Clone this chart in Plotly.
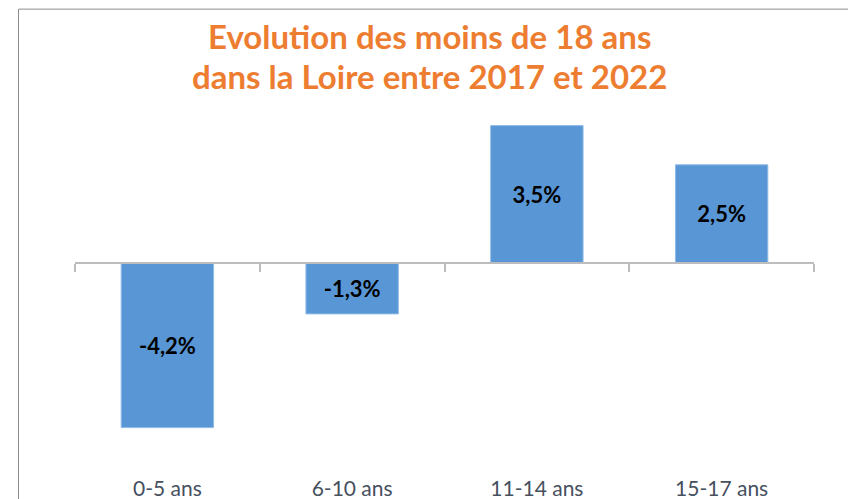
import plotly.graph_objects as go

categories = ["0-5 ans", "6-10 ans", "11-14 ans", "15-17 ans"]
values = [-4.2, -1.3, 3.5, 2.5]
title_lines = ["Evolution des moins de 18 ans", "dans la Loire entre 2017 et 2022"]

W, H = 856, 499
OFF = 8  # page offset of the figure inside the browser window
ML, MR, MT, MB = 75 - OFF, 50, 106 - OFF, 47.5
PW, PH = W - ML - MR, H - MT - MB
YMIN, YMAX = -5, 4

def px_x(x):
    return (x - OFF - ML) / PW

def px_y(y):
    return (H - MB - (y - OFF)) / PH

labels = [f"{v:.1f}%".replace(".", ",") for v in values]

fig = go.Figure()
fig.add_trace(go.Bar(
    x=categories, y=values, text=labels,
    textposition="inside", insidetextanchor="middle",
    textfont=dict(family="Lato", size=22, color="#000000", weight="bold"),
    marker=dict(color="#5896D5", line=dict(color="#8DBBE6", width=1)),
    width=0.5, cliponaxis=False,
))
# invisible trace carrying the zero-line axis with boundary ticks
fig.add_trace(go.Scatter(
    x=categories, y=[0] * len(categories), xaxis="x2", yaxis="y",
    mode="markers", marker=dict(opacity=0), hoverinfo="skip", showlegend=False,
))

zero_pos = (0 - YMIN) / (YMAX - YMIN)

fig.update_layout(
    width=W, height=H,
    margin=dict(l=ML, r=MR, t=MT, b=MB),
    paper_bgcolor="white", plot_bgcolor="white",
    showlegend=False,
    xaxis=dict(
        type="category", range=[-0.5, 3.5], showline=False, showgrid=False,
        zeroline=False, ticks="", ticklabelstandoff=15, automargin=False,
        tickfont=dict(family="Lato", size=21, color="#46505E"),
    ),
    xaxis2=dict(
        type="category", range=[-0.5, 3.5], overlaying="x", anchor="free",
        position=zero_pos, side="bottom", showline=True, linecolor="#BDBDBD",
        linewidth=2, ticks="outside", tickson="boundaries", ticklen=8,
        tickwidth=2, tickcolor="#BDBDBD", showticklabels=False, showgrid=False,
        zeroline=False, automargin=False,
    ),
    yaxis=dict(range=[YMIN, YMAX], visible=False, zeroline=False, showgrid=False,
               automargin=False),
    shapes=[dict(
        type="rect", xref="paper", yref="paper",
        x0=px_x(18.5), x1=px_x(W + 20), y0=px_y(H + 20), y1=px_y(OFF + 1),
        line=dict(color="#8C8C8C", width=1), fillcolor="rgba(0,0,0,0)", layer="below",
    )],
    annotations=[
        dict(text=title_lines[0], xref="paper", yref="paper", x=px_x(429), y=px_y(36),
             xanchor="center", yanchor="middle", showarrow=False,
             font=dict(family="Lato", size=33, color="#ED7D31", weight="bold")),
        dict(text=title_lines[1], xref="paper", yref="paper", x=px_x(429), y=px_y(76),
             xanchor="center", yanchor="middle", showarrow=False,
             font=dict(family="Lato", size=33, color="#ED7D31", weight="bold")),
    ],
)

fig.write_html("out.html")
